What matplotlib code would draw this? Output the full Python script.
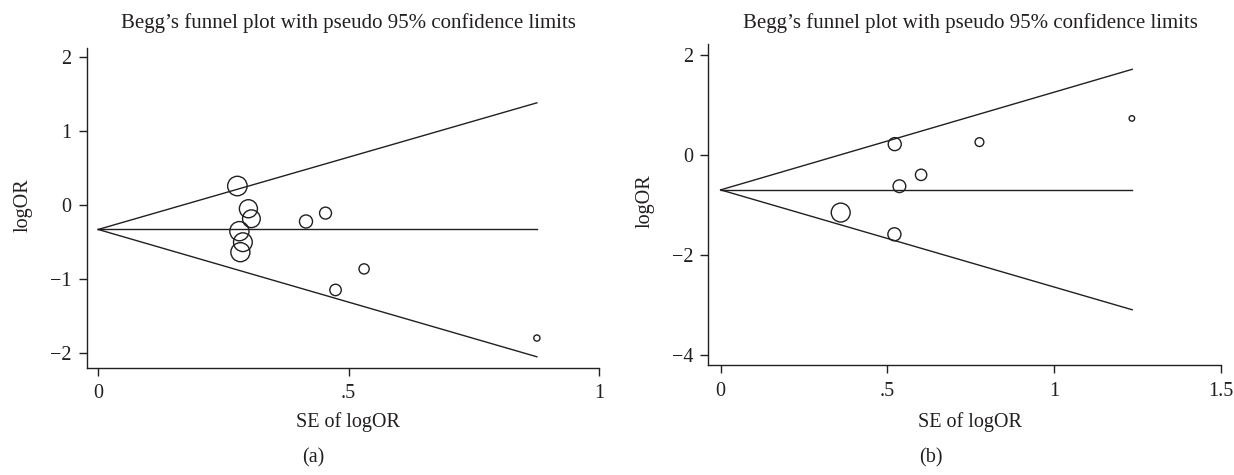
import matplotlib.pyplot as plt
import matplotlib.transforms as mtransforms

plt.rcParams['font.family'] = ['Liberation Serif', 'DejaVu Serif']

# Panel (a)
se_a = [0.278, 0.300, 0.306, 0.282, 0.289, 0.284, 0.415, 0.454, 0.531, 0.474, 0.876]
logor_a = [0.262, -0.045, -0.180, -0.348, -0.497, -0.632, -0.217, -0.104, -0.858, -1.142, -1.792]
pooled_a = -0.325
limit_x_a = [0.0, 0.876]
upper_a = [-0.325, 1.386]
lower_a = [-0.325, -2.045]
xticks_a = [0, 0.5, 1]
xticklabels_a = ['0', '.5', '1']
yticks_a = [-2, -1, 0, 1, 2]

# Panel (b)
se_b = [0.360, 0.522, 0.521, 0.536, 0.601, 0.776, 1.233]
logor_b = [-1.152, 0.221, -1.588, -0.623, -0.395, 0.261, 0.737]
pooled_b = -0.697
limit_x_b = [0.0, 1.234]
upper_b = [-0.697, 1.722]
lower_b = [-0.697, -3.102]
xticks_b = [0, 0.5, 1, 1.5]
xticklabels_b = ['0', '.5', '1', '1.5']
yticks_b = [-4, -2, 0, 2]

ink = '#231f20'
fs = 14.5

fig = plt.figure(figsize=(12.34, 4.75), dpi=100)


def funnel(rect, se, lor, pooled, lx, up, lo, xt, xtl, yt, xlim, ylim, k, title_x, xlab_y):
    ax = fig.add_axes(rect)
    ax.plot(lx, up, color=ink, lw=1.0)
    ax.plot(lx, lo, color=ink, lw=1.0)
    ax.plot(lx, [pooled, pooled], color=ink, lw=1.0)
    # marker area grows with study weight (1/se^2), as in Stata's metafunnel
    sizes = [(k / s) ** 2 for s in se]
    ax.scatter(se, lor, s=sizes, facecolors='none', edgecolors=ink, linewidths=1.0, zorder=3)
    ax.set_xlim(*xlim)
    ax.set_ylim(*ylim)
    ax.set_xticks(xt)
    ax.set_xticklabels(xtl)
    ax.set_yticks(yt)
    ax.set_yticklabels([str(v).replace('-', '\u2212') for v in yt])
    for side in ['top', 'right']:
        ax.spines[side].set_visible(False)
    for side in ['left', 'bottom']:
        ax.spines[side].set_color(ink)
        ax.spines[side].set_linewidth(1.0)
    ax.tick_params(direction='out', length=6, width=1.0, color=ink, labelsize=fs, labelcolor=ink)
    ax.tick_params(axis='x', pad=6)
    ax.tick_params(axis='y', pad=5)
    ax.set_xlabel('SE of logOR', fontsize=fs, color=ink, va='center')
    ax.xaxis.set_label_coords(0.511, xlab_y)
    ax.set_ylabel('logOR', fontsize=fs, color=ink, va='center')
    ax.yaxis.set_label_coords(-0.124, 0.51)
    tr = mtransforms.blended_transform_factory(ax.transData, fig.transFigure)
    ax.text(title_x, 1 - 23 / 475, "Begg\u2019s funnel plot with pseudo 95% confidence limits",
            transform=tr, ha='center', va='center', fontsize=15, color=ink)
    return ax


funnel([0.0702, 0.2263, 0.4152, 0.6716], se_a, logor_a, pooled_a, limit_x_a, upper_a, lower_a,
       xticks_a, xticklabels_a, yticks_a, (-0.023, 1.0), (-2.19, 2.12), 3.9, 0.5, -0.172)
funnel([0.5741, 0.2316, 0.4153, 0.6758], se_b, logor_b, pooled_b, limit_x_b, upper_b, lower_b,
       xticks_b, xticklabels_b, yticks_b, (-0.0366, 1.5), (-4.21, 2.23), 4.9, 0.75, -0.179)

fig.text(313 / 1234, 1 - 457.6 / 475, '(a)', ha='center', va='center', fontsize=fs, color=ink)
fig.text(931 / 1234, 1 - 457.6 / 475, '(b)', ha='center', va='center', fontsize=fs, color=ink)

fig.savefig('out.png', dpi=100, facecolor='white')
